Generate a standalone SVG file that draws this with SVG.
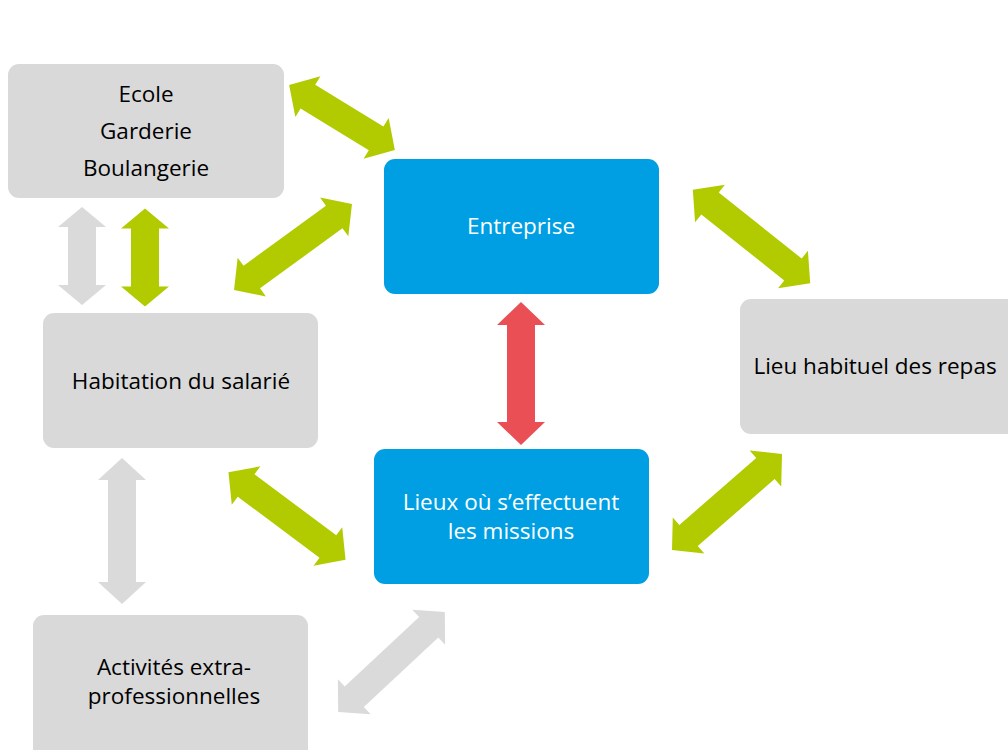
<svg xmlns="http://www.w3.org/2000/svg" width="1008" height="750" viewBox="0 0 1008 750">
<style>
.box{fill:#d9d9d9}
.blue{fill:#009fe3}
.t{font-family:"Open Sans","Liberation Sans",sans-serif;font-size:22.5px;text-anchor:middle;fill:#000}
.tw{fill:#fff}
.g{fill:#b2cb00}
.gr{fill:#dadada}
.r{fill:#e94f55}
</style>
<defs>
<path id="a146" d="M-73 0 L-51 -24 V-14 H51 V-24 L73 0 L51 24 V14 H-51 V24 Z"/>
<path id="a124" d="M-62 0 L-40 -24 V-14 H40 V-24 L62 0 L40 24 V14 H-40 V24 Z"/>
<path id="a150" d="M-75 0 L-53 -24 V-14 H53 V-24 L75 0 L53 24 V14 H-53 V24 Z"/>
<path id="a98" d="M-49 0 L-29 -24 V-14 H29 V-24 L49 0 L29 24 V14 H-29 V24 Z"/>
<path id="a143" d="M-71.5 0 L-48.5 -24 V-14 H48.5 V-24 L71.5 0 L48.5 24 V14 H-48.5 V24 Z"/>
</defs>
<rect width="1008" height="750" fill="#fff"/>
<g id="connectors">
<use href="#a124" class="g" transform="translate(342 117.5) rotate(31.5)"/>
<use href="#a146" class="g" transform="translate(293 247) rotate(-36.1)"/>
<use href="#a150" class="g" transform="translate(751.5 236.5) rotate(38.5)"/>
<use href="#a146" class="g" transform="translate(727 502) rotate(-41.1)"/>
<use href="#a146" class="g" transform="translate(287 516) rotate(36.7)"/>
<use href="#a146" class="gr" transform="translate(122 531) rotate(90)"/>
<use href="#a146" class="gr" transform="translate(391.5 662) rotate(-43.1)"/>
<use href="#a98" class="gr" transform="translate(82 256) rotate(90)"/>
<use href="#a98" class="g" transform="translate(145 257.5) rotate(90)"/>
<use href="#a143" class="r" transform="translate(521 373.5) rotate(90)"/>
</g>
<g id="ecole">
<rect class="box" x="8" y="64" width="276" height="134" rx="11"/>
<text class="t" x="146" y="102">Ecole</text>
<text class="t" x="146" y="139">Garderie</text>
<text class="t" x="146" y="176">Boulangerie</text>
</g>
<g id="entreprise">
<rect class="blue" x="384" y="159" width="275" height="135" rx="11"/>
<text class="t tw" x="521" y="234">Entreprise</text>
</g>
<g id="habitation">
<rect class="box" x="43" y="313" width="275" height="135" rx="11"/>
<text class="t" x="181" y="389">Habitation du salarié</text>
</g>
<g id="repas">
<rect class="box" x="740" y="299" width="290" height="135" rx="11"/>
<text class="t" x="875" y="374">Lieu habituel des repas</text>
</g>
<g id="missions">
<rect class="blue" x="374" y="449" width="275" height="135" rx="11"/>
<text class="t tw" x="511" y="510">Lieux où s’effectuent</text>
<text class="t tw" x="511" y="539">les missions</text>
</g>
<g id="activites">
<rect class="box" x="33" y="615" width="275" height="150" rx="11"/>
<text class="t" x="174" y="675">Activités extra-</text>
<text class="t" x="174" y="704">professionnelles</text>
</g>
</svg>
